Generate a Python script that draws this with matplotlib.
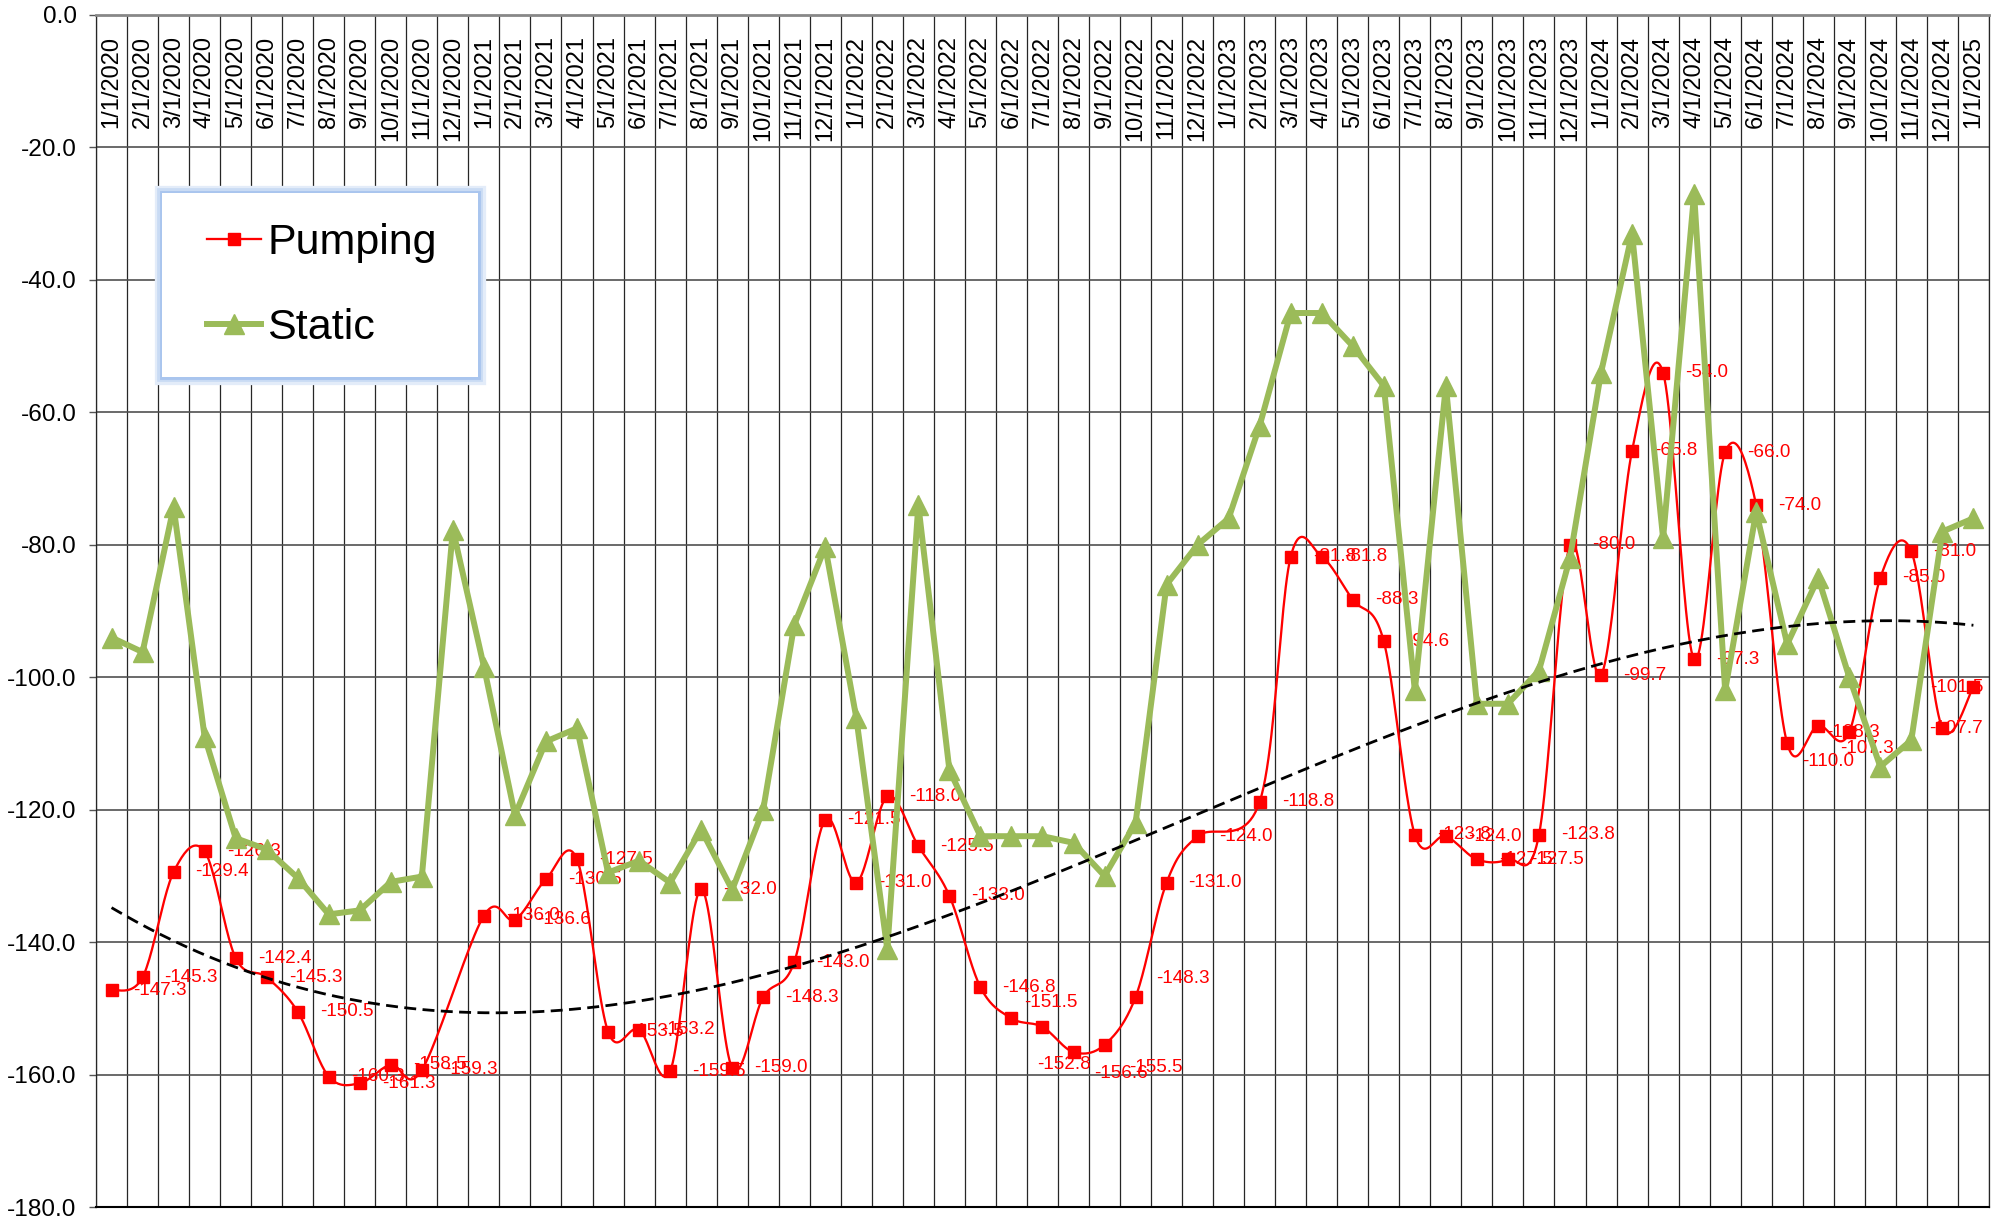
import numpy as np
import pandas as pd
import matplotlib
matplotlib.use("Agg")
import matplotlib.pyplot as plt
from matplotlib.lines import Line2D
from matplotlib.patches import Rectangle

plt.rcParams['font.family'] = ['Liberation Sans', 'DejaVu Sans']
plt.rcParams['axes.unicode_minus'] = False

# monthly readings, 1/1/2020 .. 1/1/2025
dates = pd.date_range('2020-01-01', '2025-01-01', freq='MS')
date_labels = [f"{d.month}/{d.day}/{d.year}" for d in dates]

nan = np.nan
pumping = np.array([
    -147.3, -145.3, -129.4, -126.3, -142.4, -145.3, -150.5, -160.3, -161.3, -158.5,
    -159.3, nan, -136.0, -136.6, -130.5, -127.5, -153.5, -153.2, -159.5, -132.0,
    -159.0, -148.3, -143.0, -121.5, -131.0, -118.0, -125.5, -133.0, -146.8, -151.5,
    -152.8, -156.6, -155.5, -148.3, -131.0, -124.0, nan, -118.8, -81.8, -81.8,
    -88.3, -94.6, -123.8, -124.0, -127.5, -127.5, -123.8, -80.0, -99.7, -65.8,
    -54.0, -97.3, -66.0, -74.0, -110.0, -107.3, -108.3, -85.0, -81.0, -107.7,
    -101.5])

static = np.array([
    -94.0, -96.2, -74.3, -109.0, -124.3, -126.0, -130.3, -135.8, -135.2, -130.9,
    -130.1, -77.7, -98.4, -120.8, -109.7, -107.7, -129.5, -127.7, -131.0, -123.0,
    -132.1, -120.0, -92.1, -80.3, -106.1, -141.1, -74.0, -114.0, -124.0, -124.0,
    -124.0, -125.0, -130.0, -122.0, -86.0, -80.0, -76.0, -62.0, -45.0, -45.0,
    -50.0, -56.0, -102.0, -56.0, -104.0, -104.0, -99.0, -82.0, -54.0, -33.0,
    -79.0, -27.0, -102.0, -75.0, -95.0, -85.0, -100.0, -113.5, -109.5, -78.0,
    -76.0])

# label nudges in pixels (right, down) where the default spot is crowded
label_shift = {29: (13, -16), 30: (-5, 38), 31: (21, 21), 32: (25, 23),
               33: (21, -19), 54: (15, 18), 55: (22, 23), 56: (-23, 0),
               59: (-13, 0), 60: (-43, 0)}

RED = '#FF0000'
GREEN = '#9BBB59'


def smooth_curve(xs, ys, steps=24):
    # cubic bezier through the points, spreadsheet style smoothing
    p = np.column_stack([xs, ys])
    ext = np.vstack([p[0], p, p[-1]])
    out = []
    t = np.linspace(0, 1, steps)[:, None]
    for i in range(len(p) - 1):
        p0 = ext[i + 1]
        p3 = ext[i + 2]
        c1 = p0 + (ext[i + 2] - ext[i]) / 6
        c2 = p3 - (ext[i + 3] - ext[i + 1]) / 6
        seg = ((1 - t) ** 3) * p0 + 3 * ((1 - t) ** 2) * t * c1 + 3 * (1 - t) * t ** 2 * c2 + t ** 3 * p3
        out.append(seg if i == 0 else seg[1:])
    out = np.vstack(out)
    return out[:, 0], out[:, 1]


x = np.arange(len(date_labels))
ok = ~np.isnan(pumping)

fig, ax = plt.subplots(figsize=(20.09, 12.19), dpi=100)
fig.subplots_adjust(left=0.0478, right=0.990, bottom=0.0098, top=0.9877)

# pumping level: smoothed red line with square markers and value labels
sx, sy = smooth_curve(x[ok], pumping[ok])
ax.plot(sx, sy, color=RED, lw=1.65, zorder=4)
ax.plot(x[ok], pumping[ok], ls='none', marker='s', ms=8.8, color=RED, zorder=4)

for i in x[ok]:
    dx, dy = label_shift.get(i, (22, 0))
    ax.annotate(f"{pumping[i]:.1f}", (x[i], pumping[i]),
                xytext=(dx * 0.72, -dy * 0.72), textcoords='offset points',
                ha='left', va='center', color=RED, fontsize=13.6, zorder=3)

# static level
ax.plot(x, static, color=GREEN, lw=4.3, marker='^', ms=14.5, zorder=5)

# polynomial trend of the pumping level
coef = np.polyfit(x[ok], pumping[ok], 3)
xt = np.linspace(x[0], x[-1], 300)
ax.plot(xt, np.polyval(coef, xt), color='black', lw=2.0, ls=(0, (4.3, 2.3)), zorder=6)

ax.set_xlim(-0.5, len(x) - 0.5)
ax.set_ylim(-180, 0)
ax.set_yticks(np.arange(-180, 1, 20))
ax.yaxis.set_major_formatter(matplotlib.ticker.StrMethodFormatter('{x:.1f}'))
ax.tick_params(axis='y', labelsize=17.6, length=5, width=1, pad=9, color='#555555')

ax.set_xticks(x)
ax.set_xticklabels(date_labels, rotation=90, va='top', fontsize=17)
ax.tick_params(axis='x', which='major', bottom=False, labelbottom=False,
               top=False, labeltop=True, length=0, pad=-15)
ax.set_xticks(np.arange(-0.5, len(x), 1), minor=True)
ax.tick_params(axis='x', which='minor', length=0, bottom=False, top=False)

ax.set_axisbelow(True)
ax.grid(which='minor', axis='x', color='#262626', lw=0.9)
ax.grid(which='major', axis='y', color='#505050', lw=1.2)
ax.grid(which='major', axis='x', visible=False)

ax.spines['top'].set_color('#888888')
ax.spines['top'].set_linewidth(2)
ax.spines['bottom'].set_color('black')
ax.spines['bottom'].set_linewidth(1.5)
for side in ('left', 'right'):
    ax.spines[side].set_color('#262626')
    ax.spines[side].set_linewidth(0.9)

# legend box with a soft blue glow round the edge
box = (0.0349, 0.6963, 0.1669, 0.1544)
for lw, col in [(11, '#e3ecf9'), (7, '#c9dbf4'), (3.5, '#a9c5ee')]:
    ax.add_patch(Rectangle(box[:2], box[2], box[3], transform=ax.transAxes,
                           facecolor='white', edgecolor=col, lw=lw, zorder=18,
                           clip_on=False))
ax.add_patch(Rectangle(box[:2], box[2], box[3], transform=ax.transAxes,
                       facecolor='white', edgecolor='none', zorder=19, clip_on=False))

handles = [Line2D([], [], color=RED, lw=1.65, marker='s', ms=8.8),
           Line2D([], [], color=GREEN, lw=4.3, marker='^', ms=14.5)]
leg = ax.legend(handles, ['Pumping', 'Static'], loc='center left',
                bbox_to_anchor=(0.0586, 0.7731), borderaxespad=0, borderpad=0,
                fontsize=31, frameon=False, labelspacing=1.05,
                handlelength=1.25, handletextpad=0.15)
leg.set_zorder(20)

plt.savefig('out.png', dpi=100)
